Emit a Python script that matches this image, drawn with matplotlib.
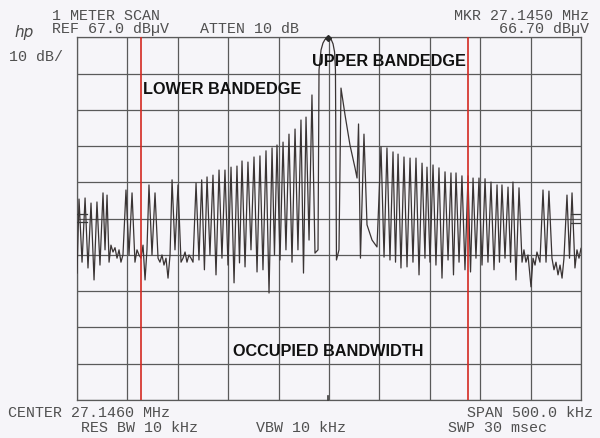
import matplotlib
matplotlib.use("Agg")
import matplotlib.pyplot as plt
import numpy as np

# ---- data (frequency offset from centre in kHz, level in dBuV) ----
center_mhz = 27.1460
span_khz = 500.0
ref_level = 67.0
db_per_div = 10.0

trace_khz = [
    -250, -248, -245, -242, -239.1, -236.1, -233.1, -230.2, -227.2, -224.2, -222.2, -220.2, -218.2,
    -216.3, -214.3, -212.3, -210.3, -208.3, -206.4, -204.4, -201.4, -198.4, -195.4, -192.5, -190.5,
    -188.5, -186.5, -184.5, -182.5, -180.6, -178.6, -175.6, -172.6, -169.6, -167.7, -165.7, -163.7,
    -161.7, -159.7, -157.7, -155.7, -152.8, -149.8, -146.8, -144.8, -142.8, -140.9, -138.9, -136.9,
    -134.9,
    -131.9, -129.0, -126.3, -123.6, -121.0, -118.1, -115.1, -112.1, -109.1, -106.2, -103.2, -100.2,
    -97.2, -94.2, -91.3, -88.8, -86.3, -83.3, -80.4, -77.4, -74.4, -71.4, -68.5, -65.5, -62.5, -59.5,
    -56.5, -54.1, -51.6, -48.6, -45.6, -42.7, -39.7, -36.7, -33.7, -30.8, -27.8, -25.3, -22.8, -19.8,
    -16.9, -13.9,
    -10.9, -9.9, -7.9, -6.0, -4.0, -1.0, 2.0, 4.0, 5.5, 6.4, 7.4, 9.9, 11.9, 15.9, 20.8, 25.8, 27.8,
    29.3, 31.2, 34.7, 37.7, 42.7, 47.6, 51.6, 54.6, 57.5, 60.5,
    63.5, 66.0, 68.5, 71.4, 74.4, 77.4, 80.4, 83.3, 86.3, 89.3, 92.3, 95.2, 97.2, 100.2, 103.2, 106.1,
    109.1, 112.1, 115.1, 118.1, 121.0, 123.5, 126.0, 129.0, 131.9, 134.9, 137.9, 140.4, 142.9, 145.8,
    148.8, 151.8, 154.8, 157.7, 160.7, 163.7, 166.7, 169.1, 171.6, 174.6, 177.6, 180.1, 182.5, 185.5,
    188.5, 191.5, 193.4, 195.4, 197.4, 200.4, 202.4, 204.4, 206.3, 209.3, 212.3, 215.3, 218.2, 221.2,
    223.2, 225.2, 227.2, 229.2, 231.2, 233.1, 236.1, 238.6, 241.1, 244.0, 246.0, 248.0, 250.0,
]
trace_dbuv = [
    2.0, 22.4, 5.0, 22.7, 3.4, 21.3, 0.1, 21.6, 4.2, 24.1, 8.4, 23.5, 5.0,
    9.7, 7.8, 9.0, 6.1, 8.4, 5.0, 7.0, 24.9, 7.0, 24.1, 5.0, 8.4,
    7.0, 6.1, 9.7, 0.1, 8.4, 26.3, 7.0, 24.1, 6.1, 5.0, 7.0, 4.2,
    6.1, 0.6, 7.0, 27.7, 8.4, 26.3, 5.0, 6.1, 7.8, 5.0, 7.0, 6.1,
    5.0,
    26.8, 5.6, 27.7, 2.9, 28.5, 7.0, 29.0, 1.5, 30.4, 6.1, 30.4, 4.2,
    31.2, -0.7, 31.5, 4.8, 32.9, 3.7, 32.6, 8.4, 34.0, 2.3, 34.3, 2.9, 35.7, -3.5,
    36.5, 7.0, 37.3, 5.6, 38.1, 8.4, 40.3, 5.0, 41.7, 8.4, 44.2, 2.0, 45.0, 11.1,
    51.1, 7.5,
    8.4, 58.0, 63.5, 65.4, 66.4, 66.9, 66.5, 65.2, 63.0, 58.0, 5.6, 8.4, 53.0, 45.6, 37.3, 31.0, 28.2,
    43.1, 6.1, 40.3, 15.3, 11.1, 9.2, 36.8, 6.4, 36.5, 5.6,
    35.4, 5.0, 34.8, 3.4, 34.0, 3.7, 33.7, 5.0, 33.7, 1.5, 32.3, 6.1, 31.2, 5.0, 31.8, 4.2,
    31.0, 0.6, 29.9, 5.6, 29.6, 1.5, 29.6, 5.0, 28.8, 2.9, 28.8, 2.3, 28.2, 6.1,
    28.2, 4.2, 28.0, 5.0, 27.1, 2.9, 26.3, 5.0, 26.3, 6.1, 25.7, 5.0, 27.1, 0.1,
    25.5, 5.0, 8.4, 5.0, 7.0, -1.8, 6.1, 4.2, 7.8, 5.0, 24.9, 5.0, 24.6, 6.1,
    2.9, 5.0, 1.5, 4.2, 0.6, 6.1, 23.5, 6.1, 24.1, 3.4, 8.4, 6.1, 8.8,
]

bandedge_khz = [-186.3, 138.0]          # red band-edge lines
marker_khz = -1.0
marker_dbuv = 66.70
display_line_left = [18.3, 16.1]
display_line_right = [18.3, 15.9]

# ---- figure ----
W, H = 600, 438
fig = plt.figure(figsize=(W / 100, H / 100), dpi=100)
bg = "#f6f5f9"
fig.patch.set_facecolor(bg)

x0, x1, ytop, ybot = 77, 581, 37.3, 400
ax = fig.add_axes([x0 / W, 1 - ybot / H, (x1 - x0) / W, (ybot - ytop) / H])
ax.set_facecolor(bg)
ax.set_xlim(-span_khz / 2, span_khz / 2)
ax.set_ylim(ref_level - 10 * db_per_div, ref_level)
ax.set_xticks(np.arange(-250, 251, 50))
ax.set_yticks(np.arange(ref_level - 100, ref_level + 1, 10))
ax.tick_params(length=0, labelbottom=False, labelleft=False)
ax.grid(True, color="#5a5a5a", lw=0.9)
for s in ax.spines.values():
    s.set_color("#5a5a5a")
    s.set_linewidth(0.9)

ax.plot(trace_khz, trace_dbuv, color="#3a3434", lw=0.9, zorder=3)

for f in bandedge_khz:
    ax.axvline(f, color="#d42a22", lw=1.2, zorder=4)

# marker diamond
ax.plot([marker_khz], [marker_dbuv], marker="D", ms=3, color="#2a2a2a", zorder=5, clip_on=False)
# display-line ticks at edges
for v in display_line_left:
    ax.plot([-250, -240], [v, v], color="#3a3a3a", lw=0.9, zorder=4)
for v in display_line_right:
    ax.plot([240, 250], [v, v], color="#3a3a3a", lw=0.9, zorder=4)
ax.plot([marker_khz, marker_khz], [-33, -31.8], color="#3a3a3a", lw=1.2, zorder=4, clip_on=False)

# ---- analyzer annotation text ----
mono = dict(family="Liberation Mono", fontsize=10.8, color="#505050")

def ftxt(x, y, s, ha="left", **kw):
    d = dict(mono)
    d.update(kw)
    fig.text(x / W, 1 - y / H, s, ha=ha, va="center", **d)

ftxt(52, 15.5, "1 METER SCAN")
ftxt(52, 28.7, "REF 67.0 dBµV")
ftxt(200, 28.7, "ATTEN 10 dB")
ftxt(589, 15.5, "MKR 27.1450 MHz", ha="right")
ftxt(589, 28.7, "66.70 dBµV", ha="right")
ftxt(9, 57, "10 dB/")
ftxt(8, 413, "CENTER 27.1460 MHz")
ftxt(593, 413, "SPAN 500.0 kHz", ha="right")
ftxt(81, 428.5, "RES BW 10 kHz")
ftxt(256, 428.5, "VBW 10 kHz")
ftxt(448, 428.5, "SWP 30 msec")
fig.text(24 / W, 1 - 33 / H, "hp", family="DejaVu Sans", style="italic",
         fontsize=11, color="#4a4a4a", ha="center", va="center")

bold = dict(family="Liberation Sans", fontweight="bold", fontsize=11.7, color="#111111")
fig.text(143 / W, 1 - 89 / H, "LOWER BANDEDGE", ha="left", va="center", **bold)
fig.text(312 / W, 1 - 62 / H, "UPPER BANDEDGE", ha="left", va="center", **bold)
fig.text(233 / W, 1 - 351 / H, "OCCUPIED BANDWIDTH", ha="left", va="center", **bold)

fig.savefig("out.png", dpi=100, facecolor=bg)
